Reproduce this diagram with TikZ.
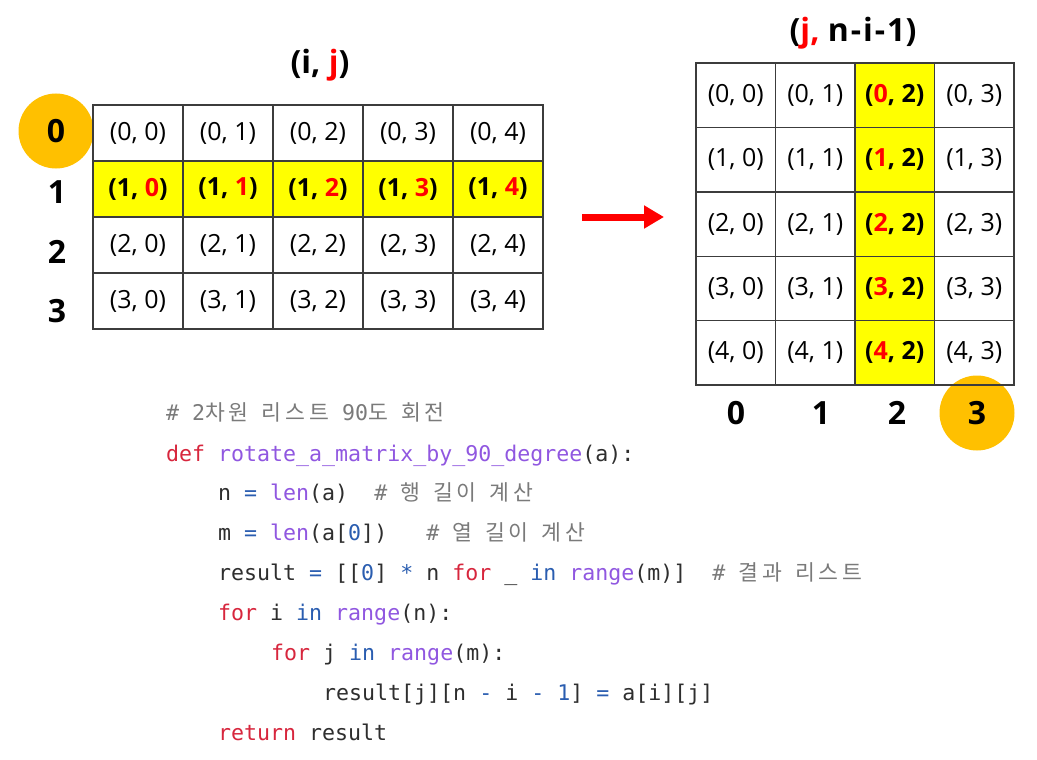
\documentclass[tikz,border=0pt]{standalone}
\usepackage{fontspec}
\setmainfont{Open Sans}
\newfontfamily\krfont[LetterSpace=18]{Noto Sans CJK KR}
\newfontfamily\codefont{DejaVu Sans Mono}
\usetikzlibrary{arrows.meta}

\definecolor{hiyellow}{HTML}{FFFF00}
\definecolor{markorange}{HTML}{FFC000}
\definecolor{gridgray}{HTML}{3C3C3C}
\definecolor{kwred}{HTML}{D7263D}
\definecolor{fnpurple}{HTML}{9057E0}
\definecolor{opblue}{HTML}{2A5DB0}
\definecolor{cmgray}{HTML}{7A7A7A}
\definecolor{idtext}{HTML}{2E2E2E}

% code colouring
\newcommand{\kw}[1]{\textcolor{kwred}{#1}}
\newcommand{\fn}[1]{\textcolor{fnpurple}{#1}}
\newcommand{\op}[1]{\textcolor{opblue}{#1}}
\newcommand{\nm}[1]{\textcolor{opblue}{#1}}
\newcommand{\cm}[1]{\textcolor{cmgray}{#1}}
\newcommand{\kr}[1]{{\krfont #1}}

\begin{document}
\begin{tikzpicture}[
    x=1pt, y=-1pt,
    cell/.style={draw=gridgray, line width=1.4pt, inner sep=0pt, minimum width=90pt, minimum height=56pt, font=\fontsize{25}{28}\selectfont},
    rcell/.style={cell, minimum width=79.5pt, minimum height=64.4pt},
    hicell/.style={fill=hiyellow, font=\fontsize{25}{28}\selectfont\bfseries},
    idx/.style={inner sep=0pt, font=\fontsize{32}{36}\selectfont\bfseries},
    hlmark/.style={circle, fill=markorange, minimum size=75pt},
    title/.style={inner sep=0pt, font=\fontsize{32}{36}\selectfont\bfseries},
    codeline/.style={anchor=base west, inner sep=0pt, text=idtext, font=\fontsize{21.6}{24}\codefont},
    arrow/.style={-{Triangle[length=20pt, width=22pt]}, line width=7pt, red}
  ]
    \useasboundingbox (0,0) rectangle (1037,760);

    % row and column indices
    \node[idx, hlmark] (row0) at (56,131) {0};
    \node[idx] (row1) at (57,192) {1};
    \node[idx] (row2) at (57,252) {2};
    \node[idx] (row3) at (57,311) {3};
    \node[idx] (col0) at (736,413) {0};
    \node[idx] (col1) at (821,413) {1};
    \node[idx] (col2) at (897,413) {2};
    \node[idx, hlmark] (col3) at (977,413) {3};

    % original matrix
    \foreach \r in {0,2,3}
      \foreach \c in {0,...,4}
        \node[cell] (L-\r-\c) at (138+90*\c, 133+56*\r) {(\r, \c)};
    \foreach \c in {0,...,4}
      \node[cell, hicell] (L-1-\c) at (138+90*\c, 189) {(1, \textcolor{red}{\c})};
    \node[title] (ltitle) at (320,65) {(i, \textcolor{red}{j})};

    % rotated matrix
    \foreach \r in {0,...,4}
      \foreach \c in {0,1,3}
        \node[rcell] (R-\r-\c) at (735.75+79.5*\c, 95.2+64.4*\r) {(\r, \c)};
    \foreach \r in {0,...,4}
      \node[rcell, hicell] (R-\r-2) at (894.75, 95.2+64.4*\r) {(\textcolor{red}{\r}, 2)};
    \node[title] (rtitle) at (853,33) {(\textcolor{red}{j,} n\kern2pt-\kern2pt i\kern2pt-\kern2pt 1)};

    \coordinate (from) at (582,217);
    \coordinate (to) at (664,217);
    \draw[arrow] (from) -- (to);

    % python code
    \node[codeline] (c1) at (166,420) {\cm{\# 2\kr{차원} \kr{리스트} 90\kr{도} \kr{회전}}};
    \node[codeline] (c2) at (166,461) {\kw{def} \fn{rotate\_a\_matrix\_by\_90\_degree}(a):};
    \node[codeline] (c3) at (218,500) {n \op{=} \fn{len}(a)\ \ \cm{\# \kr{행} \kr{길이} \kr{계산}}};
    \node[codeline] (c4) at (218,540) {m \op{=} \fn{len}(a[\nm{0}])\ \ \ \cm{\# \kr{열} \kr{길이} \kr{계산}}};
    \node[codeline] (c5) at (218,580) {result \op{=} [[\nm{0}] \op{*} n \kw{for} \_ \op{in} \fn{range}(m)]\ \ \cm{\# \kr{결과} \kr{리스트}}};
    \node[codeline] (c6) at (218,620) {\kw{for} i \op{in} \fn{range}(n):};
    \node[codeline] (c7) at (271,660) {\kw{for} j \op{in} \fn{range}(m):};
    \node[codeline] (c8) at (323,700) {result[j][n \op{-} i \op{-} \nm{1}] \op{=} a[i][j]};
    \node[codeline] (c9) at (218,740) {\kw{return} result};
  \end{tikzpicture}
\end{document}
